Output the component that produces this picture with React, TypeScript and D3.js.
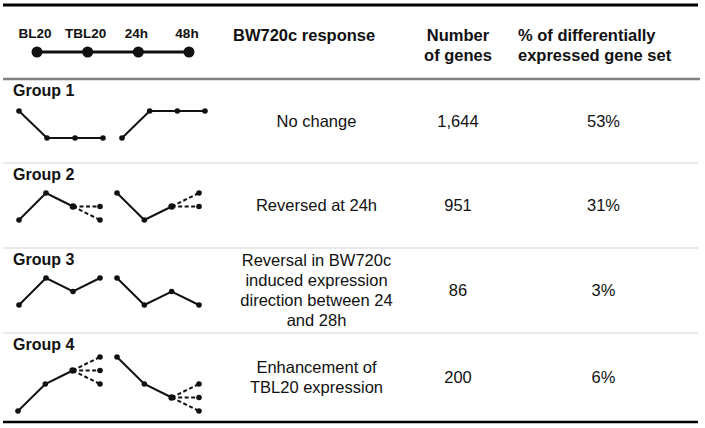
import React from "react";
import * as d3 from "d3";

// ---------- data ----------
const timepoints = ["BL20", "TBL20", "24h", "48h"];
const groups = ["Group 1", "Group 2", "Group 3", "Group 4"];
const responses = [
  ["No change"],
  ["Reversed at 24h"],
  ["Reversal in BW720c", "induced expression", "direction between 24", "and 28h"],
  ["Enhancement of", "TBL20 expression"],
];
const geneCounts = [1644, 951, 86, 200];
const percentages = [53, 31, 3, 6];
const responseHeader = ["BW720c response"];
const countHeader = ["Number", "of genes"];
const pctHeader = ["% of differentially", "expressed gene set"];

// relative expression levels (solid part) for the two sketched profiles per group
const leftProfiles = [[2, 0, 0, 0], [0, 2, 1], [0, 2, 1, 2], [0, 2, 3]];
const rightProfiles = [[0, 2, 2, 2], [2, 0, 1], [2, 0, 1, 0], [4, 2, 1]];
// dashed branch endpoints at 48h
const leftBranches = [[], [1, 0], [], [4, 3, 2]];
const rightBranches = [[], [2, 1], [], [2, 1, 0]];

// ---------- layout ----------
const W = 705;
const H = 428;
const rowEdges = [79, 163, 248, 333, 422];
const levelBase = [59, 57, 57, 78];
const levelStep = 13.5;
const leftX = [[19, 103], [19, 100], [19, 100], [18, 100]];
const rightX = [[122, 205], [117, 199], [117, 199], [117, 199]];
const FONT = "'Liberation Sans', Arial, Helvetica, sans-serif";
const INK = "#111";

function Sketch({ profile, branches, xr, base }: { profile: number[]; branches: number[]; xr: number[]; base: number }) {
  const x = d3.scaleLinear().domain([0, timepoints.length - 1]).range(xr);
  const y = d3.scaleLinear().domain([0, 4]).range([base, base - 4 * levelStep]);
  const line = d3.line<[number, number]>().x((d) => x(d[0])).y((d) => y(d[1]));
  const solid: [number, number][] = profile.map((v, i) => [i, v]);
  const lastI = profile.length - 1;
  const last = profile[lastI];
  const branchPts: [number, number][] = branches.map((b) => [timepoints.length - 1, b]);
  return (
    <g>
      <path d={line(solid) || ""} fill="none" stroke={INK} strokeWidth={2} />
      {branchPts.map((p, i) => (
        <path key={"b" + i} d={line([[lastI, last], p]) || ""} fill="none" stroke={INK} strokeWidth={2} strokeDasharray="4,2.5" />
      ))}
      {solid.concat(branchPts).map((p, i) => (
        <circle key={"c" + i} cx={x(p[0])} cy={y(p[1])} r={i === lastI && branchPts.length ? 3.3 : 2.8} fill={INK} />
      ))}
    </g>
  );
}

export default function App() {
  const tx = d3.scalePoint<string>().domain(timepoints).range([37, 189]);
  const fmt = d3.format(",");
  return (
    <svg width={W} height={H} style={{ position: "absolute", left: 0, top: 0, background: "#fff" }} fontFamily={FONT}>
      <rect width={W} height={H} fill="#fff" />
      {/* rules */}
      <line x1={3} x2={698} y1={5} y2={5} stroke="#000" strokeWidth={3} />
      <line x1={3} x2={700} y1={rowEdges[0]} y2={rowEdges[0]} stroke="#808080" strokeWidth={2.5} />
      {rowEdges.slice(1, 4).map((e, i) => (
        <line key={i} x1={3} x2={698} y1={e} y2={e} stroke="#e2e2e2" strokeWidth={1.5} />
      ))}
      <line x1={3} x2={698} y1={rowEdges[4]} y2={rowEdges[4]} stroke="#000" strokeWidth={2.5} />

      {/* header timeline */}
      <line x1={tx(timepoints[0])} x2={tx(timepoints[timepoints.length - 1])} y1={52} y2={52} stroke={INK} strokeWidth={3} />
      {timepoints.map((t) => (
        <g key={t}>
          <circle cx={tx(t)} cy={52} r={5.5} fill={INK} />
          <text x={(tx(t) || 0) - 2} y={38} textAnchor="middle" fontWeight="bold" fontSize={13.5} fill={INK}>
            {t}
          </text>
        </g>
      ))}

      {/* header columns */}
      {responseHeader.map((s, i) => (
        <text key={s} x={233} y={41 + i * 20} fontWeight="bold" fontSize={16.5} fill={INK}>{s}</text>
      ))}
      {countHeader.map((s, i) => (
        <text key={s} x={458} y={41 + i * 20} textAnchor="middle" fontWeight="bold" fontSize={16.5} fill={INK}>{s}</text>
      ))}
      {pctHeader.map((s, i) => (
        <text key={s} x={518} y={41 + i * 20} fontWeight="bold" fontSize={16.5} fill={INK}>{s}</text>
      ))}

      {/* rows */}
      {groups.map((g, gi) => {
        const top = rowEdges[gi];
        const mid = (rowEdges[gi] + rowEdges[gi + 1]) / 2;
        const lines = responses[gi];
        return (
          <g key={g}>
            <text x={13} y={top + 17} fontWeight="bold" fontSize={16} fill={INK}>{g}</text>
            <Sketch profile={leftProfiles[gi]} branches={leftBranches[gi]} xr={leftX[gi]} base={top + levelBase[gi]} />
            <Sketch profile={rightProfiles[gi]} branches={rightBranches[gi]} xr={rightX[gi]} base={top + levelBase[gi]} />
            {lines.map((s, li) => (
              <text key={li} x={316.5} y={mid + 5.5 + (li - (lines.length - 1) / 2) * 20} textAnchor="middle" fontSize={16.5} fill={INK}>
                {s}
              </text>
            ))}
            <text x={458} y={mid + 5.5} textAnchor="middle" fontSize={16.5} fill={INK}>{fmt(geneCounts[gi])}</text>
            <text x={603.5} y={mid + 5.5} textAnchor="middle" fontSize={16.5} fill={INK}>{percentages[gi] + "%"}</text>
          </g>
        );
      })}
    </svg>
  );
}
